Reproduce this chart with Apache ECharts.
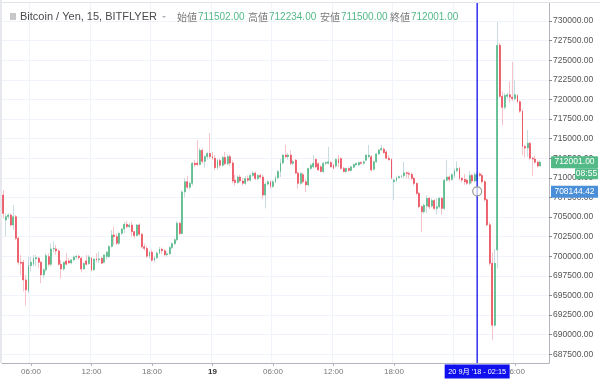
<!DOCTYPE html>
<html><head><meta charset="utf-8">
<script src="https://cdn.jsdelivr.net/npm/echarts@6/dist/echarts.min.js"></script>
<style>html,body{margin:0;padding:0;background:#fff}#c{width:600px;height:381px}</style>
</head><body><div id="c"></div>
<script>
// ---- data (15-minute candles, Bitcoin / Yen, bitFlyer) ----
// start of first candle: 18 Sep 2018 03:15, one candle every 15 minutes
const startDay = 18, startMinute = 3 * 60 + 15, stepMinutes = 15, slotCount = 217;
// [open, high, low, close]
const ohlc = [
[707800,708430,704830,705470],[704620,705470,702500,705040],[705040,705470,704750,705250],[705250,705470,703770,703980],
[703980,706520,703350,705040],[705040,705250,702070,702290],[702290,702500,698890,699230],[699230,700170,697620,699110],
[699230,699530,695500,696980],[696980,697620,693720,695710],[695580,699950,695290,698800],[698800,699950,698040,699230],
[698970,700170,698680,699740],[699660,700170,698680,699830],[699740,699950,698470,699230],[699230,699400,696560,697620],
[697620,698470,697200,698260],[698260,700380,698040,700080],[699950,700380,698680,698970],[698970,701650,698680,700930],
[700930,701860,700500,701010],[700930,701440,700170,700680],[700680,700930,698800,698970],[698970,699530,697200,698380],
[698380,699230,698130,699230],[699400,700380,698890,698970],[699400,699740,698970,699150],[699150,699660,698970,699530],
[699530,700080,699320,699910],[699910,700170,699660,700000],[700000,700170,699530,699830],[699740,699950,697960,698380],
[698380,699230,698260,699060],[699400,700170,698800,698970],[699060,700170,698890,699910],[699740,699910,698040,698260],
[698260,699110,698130,699660],[699660,700380,699230,699530],[699530,700590,699110,699660],[699740,699950,698970,699110],
[699230,699740,699110,700170],[699950,700680,699530,700500],[699950,701440,699740,701230],[701230,703350,701100,702710],
[702710,703770,701440,702500],[702500,702920,701440,701650],[701650,703130,701440,702920],[702920,703560,702710,703470],
[703470,704400,702920,704070],[704070,704510,703560,703770],[703770,704190,703560,703980],[703980,704400,702500,703130],
[703130,703220,702290,702630],[702630,704100,702500,703980],[703980,704200,702600,702800],[702800,703000,701000,701200],
[701200,701600,700700,701000],[701000,701300,699800,700000],[700000,700700,699700,700500],[700500,700800,699300,699500],
[699500,700000,699200,699800],[699800,700600,699600,700400],[700400,701200,700200,700900],[700900,701100,700300,700700],
[700700,700900,700000,700200],[700200,700600,699900,700300],[700300,701300,700200,701100],[701100,701800,700900,701600],
[701600,702300,701400,702100],[702100,704500,701900,704200],[704200,704400,702700,702900],[702900,708400,702800,708200],
[708200,710000,707500,709500],[709500,710200,708600,708800],[708800,709500,708500,709300],[709300,712000,709000,711850],
[711850,712300,711400,711650],[711900,714800,711500,711700],[711700,713800,711600,713500],[713500,713800,711800,712100],
[712100,712900,711300,712700],[712700,713300,712300,713100],[713100,715700,712400,712700],[712700,713300,712300,712500],
[712500,712900,711000,711300],[711300,712400,711000,712200],[712200,712500,711300,711600],[711600,712800,711400,712600],
[712600,713300,711600,711800],[711800,713000,711600,712700],[712700,713000,711500,711900],[711900,712200,709300,709600],
[709700,710400,709000,709400],[709400,710300,709200,710100],[710100,710400,709400,709600],[709600,710000,709000,709300],
[709300,710200,709100,709900],[709900,710300,709500,709700],[709700,710600,709500,710300],[710300,710900,710100,710600],
[710600,710800,709700,709900],[709900,710500,709700,710300],[710300,710500,709800,710100],[710100,710400,707300,707800],
[707800,709400,706100,709200],[709200,709700,709000,709500],[709500,709700,708600,708900],[708900,709700,708700,709500],
[709500,710300,709300,710000],[710000,711000,709800,710800],[710800,712400,710100,711900],[711900,713000,711700,712900],
[712900,714200,712500,712700],[712700,713200,712300,712900],[712900,713500,711600,711850],[711850,712300,711600,712050],
[712250,712400,710500,710600],[710600,710800,708650,709300],[709300,710700,709100,710550],[710400,710700,709300,709500],
[709500,709800,708200,709100],[709100,711300,708900,711200],[711200,711800,711000,711600],[711400,712900,711200,711850],
[712350,712500,711200,711400],[711800,712000,710900,711000],[711400,711600,710700,710800],[710800,712000,710600,711850],
[711850,712100,711600,711950],[711850,713950,711700,712050],[711950,712100,711300,711400],[711600,711800,711100,711200],
[711500,712500,711300,712350],[712350,712900,711400,711900],[712450,712600,711100,711200],[711200,711400,710700,710800],
[710800,711300,710600,711200],[711200,711300,710800,710950],[710950,711500,710800,711400],[711350,711800,711200,711700],
[711650,711950,711500,711850],[711650,712050,711500,711950],[711950,712100,711700,711850],[711850,712200,711700,712050],
[712250,713000,712100,712900],[712700,714200,712500,712900],[712700,712900,710800,711000],[711100,712200,710900,712050],
[712050,713200,711900,713050],[713050,713700,712900,713550],[713550,714200,713400,713750],[713650,713900,713100,713200],
[713300,713500,712400,712500],[712500,712900,712200,712300],[712350,712500,709800,709950],[709500,709950,707150,709700],
[709650,710200,709500,710000],[710000,710300,709900,710150],[710150,710400,710000,710250],[710250,712050,709950,710650],
[710650,710800,709900,710550],[710550,710800,709900,710450],[710450,710700,709700,709930],[709930,710100,709000,709290],
[709290,709400,707800,708020],[708020,708200,706100,706320],[706320,706500,703130,705680],[705680,706700,705400,706530],
[706400,707800,705500,707380],[707380,707600,706000,706320],[706400,707400,706200,707100],[707100,707300,705900,706100],
[706100,707400,705300,706300],[706300,707600,706100,707400],[707400,707600,705300,706100],[706100,709900,705900,709700],
[709700,712300,709500,710100],[710100,710300,709500,709800],[709800,710600,709600,710400],[710300,711200,710000,710900],
[710900,712100,710700,711200],[711200,711400,709700,709930],[709930,710100,709400,709720],[709800,710500,709100,709500],
[709700,709900,709100,709300],[709300,710900,709100,710300],[710300,710500,709300,709600],[709600,710700,709400,710400],
[709700,710700,709500,710500],[710500,710700,710100,710300],[710300,710600,709300,709500],[709500,709700,707000,707200],
[707200,707400,703800,704000],[704000,704300,698800,699100],[699100,700500,689300,691200],[691200,700900,691000,699100],
[700800,729900,698400,726900],[726900,727200,720200,720400],[720400,721000,716700,719000],[719000,720800,718700,720500],
[720400,720800,720100,720600],[720600,722300,719600,720300],[720300,724800,719800,720100],[720100,722500,719900,720600],
[720500,720700,719500,719700],[719700,719900,718300,718500],[718500,718800,712900,714000],[714000,714200,712600,713800],
[713800,716100,712700,714400],[714400,714600,712300,712500],[712500,712700,710200,712400],[712400,712800,711800,712000],
[712000,712200,711300,711500],[711502,712234,711500,712001]
];
// price axis tick labels
const yTicks = [687500,690000,692500,695000,697500,700000,702500,705000,707500,710000,
                712500,715000,717500,720000,722500,725000,727500,730000];
// header / marker texts
const symbolTitle = 'Bitcoin / Yen, 15, BITFLYER';
const legendNames = ['始値','高値','安値','終値'];
const legendValues = ['711502.00','712234.00','711500.00','712001.00'];
const crosshairIndex = 188;            // 20 Sep '18 02:15
const crosshairPrice = 708144.42;
const crosshairLabel = "20 9月 '18 - 02:15";
const countdownLabel = '08:55';

// ---- categories ----
const categories = [];
for (let k = 0; k < slotCount; k++) {
  const m = startMinute + stepMinutes * k;
  const day = startDay + Math.floor(m / 1440);
  const mm = m % 1440;
  const hh = Math.floor(mm / 60), mi = mm % 60;
  categories.push(day + ' ' + String(hh).padStart(2, '0') + ':' + String(mi).padStart(2, '0'));
}
const isMajor = (idx, val) => /(00|06|12|18):00$/.test(categories[idx]);
const fmtX = (val) => {
  const [d, t] = val.split(' ');
  return t === '00:00' ? '{b|' + d + '}' : t;
};

const UP = '#53b987', DOWN = '#eb4d5c';
const chart = echarts.init(document.getElementById('c'), null, { renderer: 'canvas' });
const LAT = '"Liberation Sans", Arial, sans-serif';
chart.setOption({
  animation: false,
  backgroundColor: '#ffffff',
  grid: { left: 2, right: 51, top: 3, bottom: 18 },
  xAxis: {
    type: 'category', data: categories, boundaryGap: true,
    axisLine: { show: true, lineStyle: { color: '#b2b5be', width: 1 } },
    axisTick: { show: true, interval: isMajor, alignWithLabel: true, length: 3, lineStyle: { color: '#b2b5be' } },
    axisLabel: { interval: isMajor, formatter: fmtX, color: '#777777', fontSize: 8, margin: 5, fontFamily: LAT,
      rich: { b: { fontWeight: 'bold', color: '#333333', fontSize: 8, fontFamily: LAT } } },
    splitLine: { show: true, interval: isMajor, lineStyle: { color: '#f0f3fa', width: 1 } }
  },
  yAxis: {
    type: 'value', position: 'right', min: 686380, max: 732300,
    axisLine: { show: true, lineStyle: { color: '#b2b5be', width: 1 } },
    axisTick: { show: true, length: 3, customValues: yTicks, lineStyle: { color: '#888888' } },
    axisLabel: { customValues: yTicks, formatter: v => v.toFixed(2), fontSize: 8.5, color: '#555555', margin: 4, fontFamily: LAT },
    splitLine: { show: true, lineStyle: { color: '#f0f3fa', width: 1 } }
  },
  series: [
    { type: 'candlestick', name: 'wick', silent: true, barWidth: 1, z: 2,
      data: ohlc.map(d => [d[0], d[3], d[2], d[1]]),
      itemStyle: { color: '#c9dde1', color0: '#f6c3c8', borderColor: '#c9dde1', borderColor0: '#f6c3c8', borderWidth: 1 } },
    { type: 'candlestick', name: 'body', barWidth: 1.4, z: 3,
      data: ohlc.map(d => [d[0], d[3], Math.min(d[0], d[3]), Math.max(d[0], d[3])]),
      itemStyle: { color: UP, color0: DOWN, borderColor: UP, borderColor0: DOWN, borderWidth: 0.7 } }
  ]
});

// ---- overlay: header, price tags, crosshair ----
const last = ohlc[ohlc.length - 1];
const yLast = chart.convertToPixel({ yAxisIndex: 0 }, last[3]);
const yCross = chart.convertToPixel({ yAxisIndex: 0 }, crosshairPrice);
const xCross = chart.convertToPixel({ xAxisIndex: 0 }, crosshairIndex);
const gridRect = chart.getModel().getComponent('grid').coordinateSystem.getRect();
const axisX = gridRect.x + gridRect.width;
const font = (s, w) => (w || 'normal') + ' ' + s + 'px "Liberation Sans", Arial, sans-serif';
const cjk = (s) => s + 'px "Noto Sans CJK JP", sans-serif';
const mixed = (s) => s + 'px "Liberation Sans", "Noto Sans CJK JP", sans-serif';
const legendX = [[177, 198], [248, 269], [320, 341], [390, 411]];
const g = [
  { type: 'line', shape: { x1: 0, y1: 2.5, x2: 600, y2: 2.5 }, style: { stroke: '#e0e3eb', lineWidth: 1 }, z: 10 },
  { type: 'rect', shape: { x: 0, y: 0, width: 2, height: 363 }, style: { fill: '#e6e8ee' }, z: 10 },
  { type: 'rect', shape: { x: 10, y: 13, width: 6, height: 7 }, style: { fill: '#c8c8c8' }, z: 20 },
  { type: 'text', x: 20, y: 17, style: { text: symbolTitle, font: font(11), fill: '#4a4a4a', verticalAlign: 'middle' }, z: 20 },
  { type: 'polygon', shape: { points: [[162, 16], [166, 16], [164, 18]] }, style: { fill: '#b0b0b0' }, z: 20 }
];
legendNames.forEach((n, i) => {
  g.push({ type: 'text', x: legendX[i][0], y: 17, style: { text: n, font: cjk(10), fill: '#7a7a7a', verticalAlign: 'middle' }, z: 20 });
  g.push({ type: 'text', x: legendX[i][1], y: 17, style: { text: legendValues[i], font: font(10), fill: UP, verticalAlign: 'middle' }, z: 20 });
});
// current price tag
g.push({ type: 'rect', shape: { x: axisX + 2, y: yLast - 6, width: 47, height: 12, r: 1 }, style: { fill: UP }, z: 30 });
g.push({ type: 'text', x: axisX + 25.5, y: yLast, style: { text: last[3].toFixed(2), font: font(8.5), fill: '#fff', align: 'center', verticalAlign: 'middle' }, z: 31 });
g.push({ type: 'rect', shape: { x: axisX + 26, y: yLast + 6, width: 23, height: 11, r: 1 }, style: { fill: UP }, z: 30 });
g.push({ type: 'text', x: axisX + 37.5, y: yLast + 11.5, style: { text: countdownLabel, font: font(8.5), fill: '#fff', align: 'center', verticalAlign: 'middle' }, z: 31 });
// crosshair price tag
g.push({ type: 'rect', shape: { x: axisX + 2, y: yCross - 6.5, width: 47, height: 12 }, style: { fill: '#4a8fd8' }, z: 30 });
g.push({ type: 'text', x: axisX + 25.5, y: yCross - 0.5, style: { text: crosshairPrice.toFixed(2), font: font(8.5), fill: '#fff', align: 'center', verticalAlign: 'middle' }, z: 31 });
// crosshair vertical line
g.push({ type: 'line', shape: { x1: xCross, y1: 3, x2: xCross, y2: gridRect.y + gridRect.height }, style: { stroke: '#1010ee', lineWidth: 1.3 }, z: 25 });
g.push({ type: 'circle', shape: { cx: xCross, cy: yCross - 1, r: 4.5 }, style: { fill: 'rgba(255,255,255,0.7)', stroke: '#9a9a9a', lineWidth: 1.2 }, z: 26 });
// crosshair time tag
g.push({ type: 'rect', shape: { x: xCross - 32.5, y: gridRect.y + gridRect.height + 1.5, width: 65, height: 14 }, style: { fill: '#1010ee' }, z: 30 });
g.push({ type: 'text', x: xCross, y: gridRect.y + gridRect.height + 8.5, style: { text: crosshairLabel, font: mixed(7.3), fill: '#fff', align: 'center', verticalAlign: 'middle' }, z: 31 });
chart.setOption({ graphic: g });
</script>
</body></html>
